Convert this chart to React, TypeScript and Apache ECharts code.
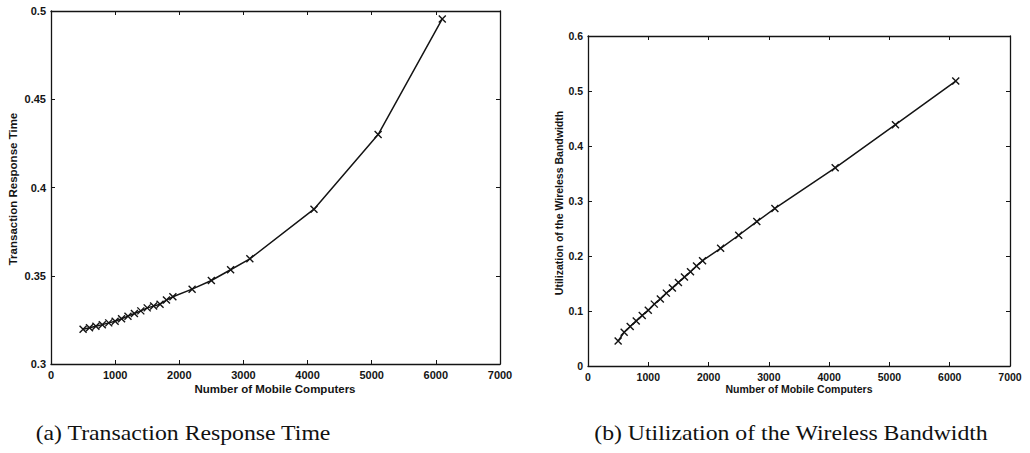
import React, { useEffect, useRef } from "react";
import * as echarts from "echarts";

// Number of mobile computers simulated at each point
const mobileCounts = [
  500, 600, 700, 800, 900, 1000, 1100, 1200, 1300, 1400, 1500, 1600, 1700, 1800,
  1900, 2200, 2500, 2800, 3100, 4100, 5100, 6100,
];

// (a) mean transaction response time
const responseTime = [
  0.3197, 0.3205, 0.3214, 0.3223, 0.3233, 0.3242, 0.3256, 0.3271, 0.3286, 0.3301,
  0.3318, 0.3328, 0.3339, 0.3362, 0.3381, 0.3424, 0.3473, 0.3534, 0.3596, 0.3877,
  0.4300, 0.4955,
];

// (b) utilization of the wireless bandwidth
const bandwidthUtil = [
  0.0456, 0.0614, 0.0717, 0.082, 0.092, 0.1015, 0.1125, 0.122, 0.1325, 0.142,
  0.152, 0.1617, 0.1714, 0.1818, 0.1915, 0.214, 0.2377, 0.2626, 0.2864, 0.3604,
  0.4387, 0.518,
];

const xTicks = { min: 0, max: 7000, interval: 1000 };
const yTicksA = { min: 0.3, max: 0.5, interval: 0.05 };
const yTicksB = { min: 0, max: 0.6, interval: 0.1 };

const captions = ["(a) Transaction Response Time", "(b) Utilization of the Wireless Bandwidth"];
const xAxisTitle = "Number of Mobile Computers";
const yAxisTitles = ["Transaction Response Time", "Utilization of the Wireless Bandwidth"];

const INK = "#141414";
const SANS = "Liberation Sans, Arial, sans-serif";
const SERIF = `"Liberation Serif", "Times New Roman", serif`;
const CROSS = "path://M0,0L10,10M10,0L0,10";

// Plain numbers, no thousands separators
const plain = (v: number) => String(Math.round(v * 1000) / 1000);

function axisPair(kind: "x" | "y", gridIndex: number, range: any, fontSize: number) {
  const common = {
    type: "value",
    gridIndex,
    min: range.min,
    max: range.max,
    interval: range.interval,
    axisLine: { show: true, onZero: false, lineStyle: { color: INK, width: 1.3 } },
    axisTick: { show: true, inside: true, length: 4, lineStyle: { color: INK, width: 1 } },
    splitLine: { show: false },
  };
  const main = {
    ...common,
    position: kind === "x" ? "bottom" : "left",
    axisLabel: {
      show: true,
      color: INK,
      fontFamily: SANS,
      fontWeight: "bold",
      fontSize,
      margin: 5,
      formatter: plain,
    },
  };
  const mirror = {
    ...common,
    position: kind === "x" ? "top" : "right",
    axisLabel: { show: false },
  };
  return [main, mirror];
}

function lineSeries(xAxisIndex: number, yAxisIndex: number, values: number[]) {
  return {
    type: "line",
    xAxisIndex,
    yAxisIndex,
    data: mobileCounts.map((x, i) => [x, values[i]]),
    symbol: CROSS,
    symbolSize: 7,
    showSymbol: true,
    lineStyle: { color: INK, width: 1.5 },
    itemStyle: { color: "none", borderColor: INK, borderWidth: 1.4 },
    emphasis: { disabled: true },
    silent: true,
  };
}

function label(text: string, x: number, y: number, size: number, vertical: boolean) {
  return {
    type: "text",
    x,
    y,
    rotation: vertical ? Math.PI / 2 : 0,
    style: {
      text,
      fill: INK,
      font: `bold ${size}px ${SANS}`,
      align: "center",
      verticalAlign: "middle",
    },
  };
}

function caption(text: string, x: number) {
  return {
    type: "text",
    x,
    y: 433,
    scaleX: 1.08,
    style: {
      text,
      fill: "#111",
      font: `22px ${SERIF}`,
      align: "center",
      verticalAlign: "middle",
    },
  };
}

export default function App() {
  const ref = useRef<HTMLDivElement>(null);

  useEffect(() => {
    if (!ref.current) return;
    const chart = echarts.init(ref.current, null, { renderer: "svg" });

    const [xa0, xa1] = axisPair("x", 0, xTicks, 11);
    const [ya0, ya1] = axisPair("y", 0, yTicksA, 11);
    const [xb0, xb1] = axisPair("x", 1, xTicks, 10.5);
    const [yb0, yb1] = axisPair("y", 1, yTicksB, 10.5);

    chart.setOption({
      animation: false,
      backgroundColor: "#ffffff",
      grid: [
        { left: 51, top: 11, width: 449, height: 353, containLabel: false },
        { left: 588, top: 36, width: 422, height: 330, containLabel: false },
      ],
      xAxis: [xa0, xa1, xb0, xb1],
      yAxis: [ya0, ya1, yb0, yb1],
      series: [lineSeries(0, 0, responseTime), lineSeries(2, 2, bandwidthUtil)],
      graphic: [
        label(xAxisTitle, 275, 389, 11.5, false),
        label(xAxisTitle, 799, 389, 10.5, false),
        label(yAxisTitles[0], 13, 189, 11.5, true),
        label(yAxisTitles[1], 559, 203, 10.5, true),
        caption(captions[0], 183),
        caption(captions[1], 791),
      ],
    });

    return () => chart.dispose();
  }, []);

  return (
    <div
      ref={ref}
      style={{ position: "fixed", left: 0, top: 0, width: 1030, height: 453, background: "#fff" }}
    />
  );
}
